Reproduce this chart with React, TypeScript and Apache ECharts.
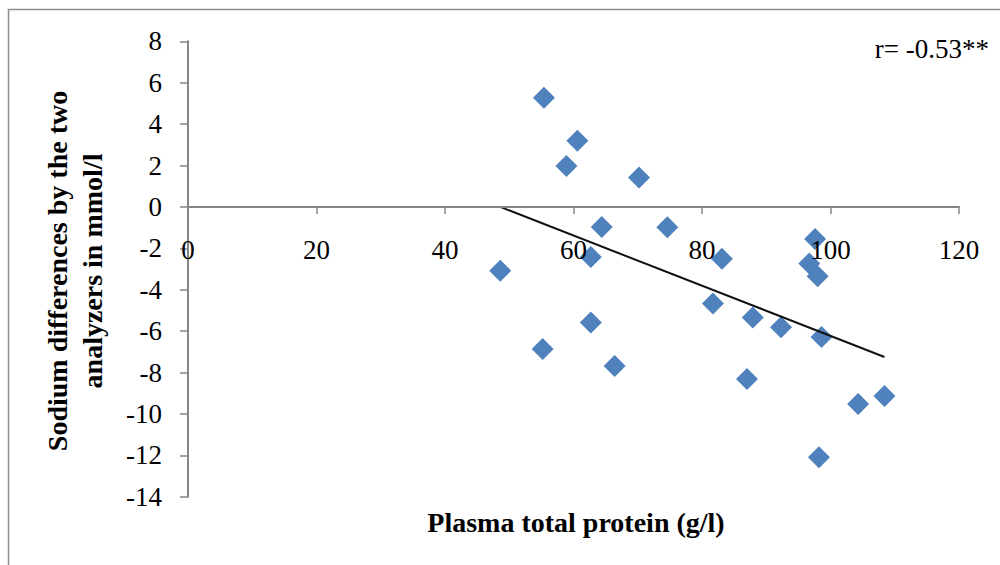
import React, { useEffect, useRef } from "react";
import * as echarts from "echarts";

// Plasma total protein (g/l) against the sodium difference between the two analyzers (mmol/l)
const proteinGL: number[] = [
  55.4, 60.6, 58.9, 70.2, 64.4, 74.6, 97.6, 62.7, 83.1, 96.7, 98.0, 48.6,
  81.7, 87.9, 92.3, 98.6, 62.7, 55.2, 66.4, 87.0, 104.3, 108.4, 98.2,
];
const sodiumDiff: number[] = [
  5.27, 3.19, 1.98, 1.42, -0.97, -0.98, -1.55, -2.42, -2.51, -2.74, -3.35, -3.09,
  -4.67, -5.34, -5.81, -6.28, -5.59, -6.87, -7.68, -8.31, -9.52, -9.13, -12.09,
];

// Linear trend line: y = intercept + slope * x
const trendIntercept = 5.892;
const trendSlope = -0.12124;

const xTicks = { min: 0, max: 120, interval: 20 };
const yTicks = { min: -14, max: 8, interval: 2 };

const correlationLabel = "r= -0.53**";
const xTitle = "Plasma total protein (g/l)";
const yTitleLines = ["Sodium differences by the two", "analyzers in mmol/l"];

const FONT = "'Liberation Serif', 'Times New Roman', serif";

const GRID_TOP = 41.3;
const GRID_BOTTOM = 68.3;
const CHART_H = 565;

export default function App() {
  const ref = useRef<HTMLDivElement | null>(null);

  useEffect(() => {
    if (!ref.current) return;
    const chart = echarts.init(ref.current, undefined, { renderer: "svg" });

    const points = proteinGL.map((x, i) => [x, sodiumDiff[i]]);
    const xLo = Math.min(...proteinGL);
    const xHi = Math.max(...proteinGL);
    const trend = [
      [xLo, trendIntercept + trendSlope * xLo],
      [xHi, trendIntercept + trendSlope * xHi],
    ];

    // the horizontal axis crosses the vertical one at y = 0
    const plotH = CHART_H - GRID_TOP - GRID_BOTTOM;
    const zeroShift = (plotH * (0 - yTicks.min)) / (yTicks.max - yTicks.min);

    chart.setOption({
      animation: false,
      backgroundColor: "#ffffff",
      grid: { left: 188, right: 41, top: GRID_TOP, bottom: GRID_BOTTOM, containLabel: false },
      xAxis: {
        type: "value",
        z: 5,
        min: xTicks.min,
        max: xTicks.max,
        interval: xTicks.interval,
        offset: -zeroShift,
        axisLine: { onZero: false, lineStyle: { color: "#868686", width: 2 } },
        axisTick: { show: true, length: 7, lineStyle: { color: "#868686", width: 1.5 } },
        axisLabel: { margin: 30, color: "#000", fontFamily: FONT, fontSize: 27 },
        splitLine: { show: false },
      },
      yAxis: {
        type: "value",
        min: yTicks.min,
        max: yTicks.max,
        interval: yTicks.interval,
        axisLine: { show: true, lineStyle: { color: "#868686", width: 2 } },
        axisTick: { show: true, length: 8, lineStyle: { color: "#868686", width: 1.5 } },
        axisLabel: { margin: 26, color: "#000", fontFamily: FONT, fontSize: 27 },
        splitLine: { show: false },
      },
      graphic: [
        {
          type: "rect",
          silent: true,
          shape: { x: 8.5, y: 9.5, width: 1100, height: 700 },
          style: { fill: "none", stroke: "#8e8e8e", lineWidth: 1.5 },
        },
        {
          type: "text",
          x: 989,
          y: 49,
          style: {
            text: correlationLabel,
            font: `27px ${FONT}`,
            fill: "#000",
            align: "right",
            verticalAlign: "middle",
          },
        },
        {
          type: "text",
          x: 576,
          y: 522,
          style: {
            text: xTitle,
            font: `bold 28px ${FONT}`,
            fill: "#000",
            align: "center",
            verticalAlign: "middle",
          },
        },
        {
          type: "text",
          x: 75,
          y: 271,
          rotation: Math.PI / 2,
          style: {
            text: yTitleLines.join("\n"),
            font: `bold 28px ${FONT}`,
            lineHeight: 35,
            fill: "#000",
            align: "center",
            verticalAlign: "middle",
          },
        },
      ],
      series: [
        {
          type: "scatter",
          data: points,
          symbol: "diamond",
          symbolSize: 22,
          itemStyle: { color: "#4F81BD", opacity: 1 },
          z: 2,
        },
        {
          type: "line",
          data: trend,
          symbol: "none",
          lineStyle: { color: "#111", width: 2 },
          z: 3,
        },
      ],
    });

    return () => chart.dispose();
  }, []);

  return (
    <div
      ref={ref}
      style={{ position: "absolute", left: 0, top: 0, width: 1000, height: 565 }}
    />
  );
}
